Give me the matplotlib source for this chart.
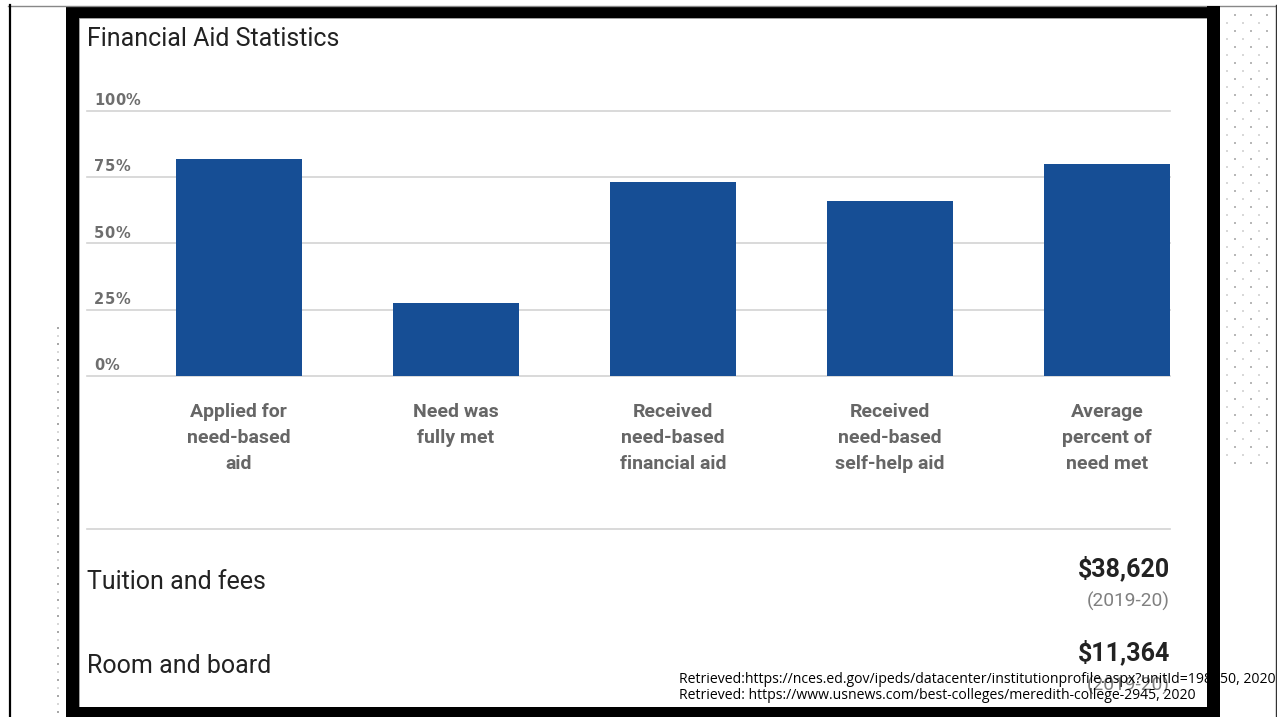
import matplotlib
matplotlib.use("Agg")
import matplotlib.pyplot as plt
from matplotlib.patches import Rectangle
from matplotlib.transforms import offset_copy
from matplotlib import font_manager
import numpy as np

# ---------------- data ----------------
categories = ["Applied for\nneed-based\naid", "Need was\nfully met",
              "Received\nneed-based\nfinancial aid", "Received\nneed-based\nself-help aid",
              "Average\npercent of\nneed met"]
values = [82, 27.5, 73, 66, 80]
yticks = [0, 25, 50, 75, 100]
ytick_labels = ["0%", "25%", "50%", "75%", "100%"]
title = "Financial Aid Statistics"
cost_items = ["Tuition and fees", "Room and board"]
cost_values = ["$38,620", "$11,364"]
cost_years = ["(2019-20)", "(2019-20)"]
citations = ["Retrieved:https://nces.ed.gov/ipeds/datacenter/institutionprofile.aspx?unitId=198950, 2020",
             "Retrieved: https://www.usnews.com/best-colleges/meredith-college-2945, 2020"]

W, H = 1277, 717
BAR = "#164E95"
GRID = "#d3d3d3"
LABEL = "#666666"

installed = {f.name for f in font_manager.fontManager.ttflist}
CIT_FONT = "Liberation Sans Narrow" if "Liberation Sans Narrow" in installed else "Open Sans"

fig = plt.figure(figsize=(W / 100, H / 100), dpi=100)
fig.patch.set_facecolor("white")

# ---------- background / frame layer (pixel coords) ----------
bg = fig.add_axes([0, 0, 1, 1], zorder=0)
bg.set_xlim(0, W); bg.set_ylim(H, 0); bg.axis("off")
bg.plot([8, W], [5.5, 5.5], color="#888888", lw=1.0)
bg.plot([9.5, 9.5], [5, H], color="black", lw=1.6)
bg.plot([1275.5, 1275.5], [5, H], color="#333333", lw=1.0)
for k, y in enumerate(np.arange(15, 470, 8)):
    xs = [1235, 1251, 1267] if k % 2 == 0 else [1227, 1243, 1259]
    bg.scatter(xs, [y] * len(xs), s=1.0, color="#b8b8b8" if k % 2 == 0 else "#d8d8d8",
               linewidths=0, marker="s")
for k, y in enumerate(np.arange(328, H, 8)):
    bg.scatter([58], [y], s=1.0, color="#a8a8a8" if k % 2 == 0 else "#d8d8d8",
               linewidths=0, marker="s")
bg.add_patch(Rectangle((66, 6), 1220 - 66, H - 6 + 2, facecolor="black", edgecolor="none"))
bg.add_patch(Rectangle((79, 18), 1207 - 79, 707 - 18, facecolor="white",
                       edgecolor="#aaaaaa", lw=0.6))

# ---------- bar chart ----------
x0, x1, ytop, ybot = 87, 1170, 110.7, 376.3
ax = fig.add_axes([x0 / W, 1 - ybot / H, (x1 - x0) / W, (ybot - ytop) / H], zorder=1)
ax.patch.set_alpha(0)
xpos = np.arange(len(categories))
ax.bar(xpos, values, width=0.58, color=BAR, zorder=3)
ax.set_xlim(-0.70, 4.29)
ax.set_ylim(0, 100)
ax.set_yticks(yticks)
ax.set_yticklabels([])
ax.grid(axis="y", color=GRID, lw=1.2, zorder=0)
for gl in ax.get_ygridlines():
    gl.set_clip_on(False)
ax.set_axisbelow(True)
for s in ax.spines.values():
    s.set_visible(False)
ax.tick_params(axis="both", length=0)
ax.set_xticks(xpos)
ax.set_xticklabels(categories, fontsize=14, fontweight="bold", color=LABEL,
                   family="Roboto", linespacing=1.6)
ax.tick_params(axis="x", pad=19)

ytr = ax.get_yaxis_transform()
for v, lab in zip(yticks, ytick_labels):
    xoff = 0.0
    for ch in lab:
        t = offset_copy(ytr, fig=fig, x=xoff, y=6, units="dots")
        ax.text((94 - x0) / (x1 - x0), v, ch, transform=t, fontsize=10.5,
                fontweight="bold", color="#6e6e6e", family="DejaVu Sans",
                ha="left", va="baseline")
        xoff += 10.6 if ch != "%" else 0

# ---------- text layer ----------
ov = fig.add_axes([0, 0, 1, 1], zorder=2)
ov.set_xlim(0, W); ov.set_ylim(H, 0); ov.axis("off")
ov.text(87, 45.5, title, fontsize=18, family="Roboto", color="#222222",
        ha="left", va="baseline")
ov.plot([87, 1170], [529, 529], color=GRID, lw=1.2)
rows_y = [589, 673]
for yb, item, val, yr in zip(rows_y, cost_items, cost_values, cost_years):
    ov.text(87, yb, item, fontsize=18, family="Roboto", color="#222222",
            ha="left", va="baseline")
    ov.text(1170, yb - 13, val, fontsize=18, family="Roboto", fontweight="bold",
            color="#222222", ha="right", va="baseline")
    ov.text(1170, yb + 18, yr, fontsize=13.8, family="Roboto", color="#808080",
            ha="right", va="baseline")

cit_texts = []
for yb, c in zip([683, 699], citations):
    cit_texts.append(ov.text(679, yb, c, fontsize=11, family=CIT_FONT,
                             color="black", ha="left", va="baseline", zorder=3))
fig.canvas.draw()
r = fig.canvas.get_renderer()
w0 = cit_texts[0].get_window_extent(r).width
scale = (1272 - 679) / w0
for t in cit_texts:
    t.set_fontsize(11 * scale)

ov.add_patch(Rectangle((1207, 6), 13, H, facecolor="black", edgecolor="none", zorder=4))
ov.add_patch(Rectangle((66, 707), 1220 - 66, 12, facecolor="black", edgecolor="none", zorder=4))

fig.savefig("out.png", dpi=100, facecolor="white")
